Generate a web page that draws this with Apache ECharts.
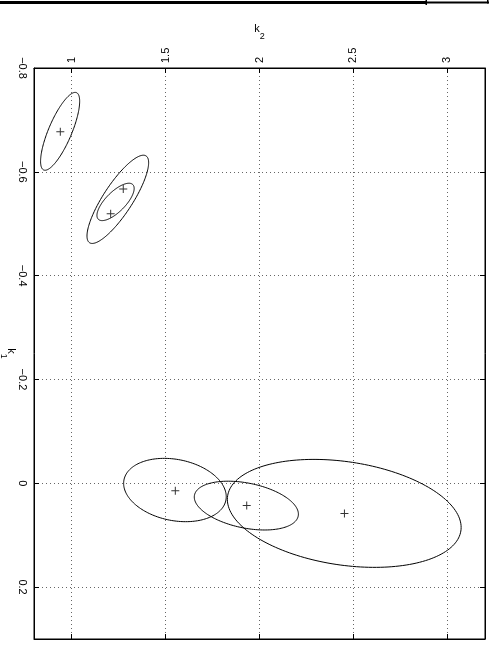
<!DOCTYPE html>
<html>
<head>
<meta charset="utf-8">
<script src="https://cdn.jsdelivr.net/npm/echarts@6/dist/echarts.min.js"></script>
<style>
html,body{margin:0;padding:0;background:#fff;}
#chart{width:490px;height:645px;}
</style>
</head>
<body>
<div id="chart"></div>
<script>
// Tick values
var k2Ticks = [1, 1.5, 2, 2.5, 3];
var k1Ticks = [-0.8, -0.6, -0.4, -0.2, 0, 0.2];

// Ellipse parameters (data units): centre k2, centre k1, half-extent along k2, half-extent along k1, correlation
var ellipseK2   = [0.939, 1.246, 1.234, 1.550, 1.930, 2.451];
var ellipseK1   = [-0.678, -0.547, -0.542, 0.013, 0.043, 0.058];
var ellipseHalfK2 = [0.104, 0.164, 0.099, 0.273, 0.277, 0.622];
var ellipseHalfK1 = [0.075, 0.085, 0.036, 0.061, 0.047, 0.104];
var ellipseRho  = [-0.77, -0.83, -0.72, 0.21, 0.35, 0.26];

// "+" marker positions
var markerK2 = [0.940, 1.275, 1.208, 1.552, 1.932, 2.452];
var markerK1 = [-0.677, -0.567, -0.519, 0.0145, 0.0426, 0.058];

var ellipseData = ellipseK2.map(function (v, i) {
  return [v, ellipseK1[i], ellipseHalfK2[i], ellipseHalfK1[i], ellipseRho[i]];
});
var markerData = markerK2.map(function (v, i) { return [v, markerK1[i]]; });

var FONT = 'Liberation Sans, Arial, Helvetica, sans-serif';
function fmt(v) { return String(v).replace('-', '\u2212'); }

var chart = echarts.init(document.getElementById('chart'), null, {renderer: 'canvas'});

var axisCommon = {
  type: 'value',
  axisLine: {show: true, onZero: false, lineStyle: {color: '#000', width: 1}},
  splitLine: {show: false},
  axisLabel: {show: false}
};

var nameRich = {
  k: {fontSize: 11, fontFamily: FONT, color: '#000', lineHeight: 12, verticalAlign: 'top'},
  s: {fontSize: 9, fontFamily: FONT, color: '#000', lineHeight: 18, verticalAlign: 'bottom'}
};

chart.setOption({
  animation: false,
  backgroundColor: '#fff',
  grid: {left: 34, right: 5, top: 68, bottom: 6, containLabel: false, outerBoundsMode: 'none',
         show: true, borderColor: '#000', borderWidth: 1, backgroundColor: 'transparent'},
  xAxis: [
    Object.assign({}, axisCommon, {
      position: 'top', min: 0.8, max: 3.2,
      name: '{k|k}{s|2}', nameLocation: 'middle', nameGap: 27, nameMoveOverlap: false,
      nameTextStyle: {color: '#000', fontFamily: FONT, rich: nameRich},
      axisTick: {show: true, inside: true, length: 5, customValues: k2Ticks, lineStyle: {color: '#000'}},
      axisLabel: {show: true, customValues: k2Ticks, rotate: -90, margin: 5, fontSize: 11, color: '#000', fontFamily: FONT, formatter: fmt},
      splitLine: {show: true, lineStyle: {color: '#666', width: 1, type: [1, 3]}}
    }),
    Object.assign({}, axisCommon, {
      position: 'bottom', min: 0.8, max: 3.2,
      axisTick: {show: true, inside: true, length: 5, customValues: k2Ticks, lineStyle: {color: '#000'}}
    })
  ],
  yAxis: [
    Object.assign({}, axisCommon, {
      position: 'left', min: -0.8, max: 0.3, inverse: true,
      name: '{k|k}{s|1}', nameLocation: 'middle', nameGap: 17, nameRotate: -90, nameMoveOverlap: false,
      nameTextStyle: {color: '#000', fontFamily: FONT, rich: nameRich},
      axisTick: {show: true, inside: true, length: 5, customValues: k1Ticks, lineStyle: {color: '#000'}},
      axisLabel: {show: true, customValues: k1Ticks, rotate: -90, margin: 6, fontSize: 11, color: '#000', fontFamily: FONT, formatter: fmt},
      splitLine: {show: true, lineStyle: {color: '#666', width: 1, type: [1, 3]}}
    }),
    Object.assign({}, axisCommon, {
      position: 'right', min: -0.8, max: 0.3, inverse: true,
      axisTick: {show: true, inside: true, length: 5, customValues: k1Ticks, lineStyle: {color: '#000'}}
    })
  ],
  series: [
    {
      type: 'custom',
      coordinateSystem: 'cartesian2d',
      xAxisIndex: 0, yAxisIndex: 0,
      clip: true,
      data: ellipseData,
      encode: {x: 0, y: 1},
      renderItem: function (params, api) {
        var c2 = api.value(0), c1 = api.value(1), a = api.value(2), b = api.value(3), rho = api.value(4);
        var phi = Math.acos(rho);
        var pts = [];
        var N = 180;
        for (var i = 0; i < N; i++) {
          var t = 2 * Math.PI * i / N;
          pts.push(api.coord([c2 + a * Math.cos(t), c1 + b * Math.cos(t + phi)]));
        }
        return {type: 'polygon', shape: {points: pts}, style: {fill: 'none', stroke: '#000', lineWidth: 1}};
      }
    },
    {
      type: 'scatter',
      xAxisIndex: 0, yAxisIndex: 0,
      data: markerData,
      symbol: 'path://M0,3.5L8,3.5L8,4.5L0,4.5ZM3.5,0L4.5,0L4.5,8L3.5,8Z',
      symbolSize: 8,
      itemStyle: {color: '#000'}
    }
  ],
  graphic: [
    {type: 'rect', shape: {x: 0, y: 1, width: 426, height: 3}, style: {fill: '#000'}},
    {type: 'rect', shape: {x: 425.5, y: 0, width: 1.5, height: 5}, style: {fill: '#000'}},
    {type: 'rect', shape: {x: 427, y: 1.5, width: 62, height: 2}, style: {fill: '#000'}},
    {type: 'rect', shape: {x: 487, y: 0, width: 1.5, height: 3.5}, style: {fill: '#000'}}
  ]
});
</script>
</body>
</html>
